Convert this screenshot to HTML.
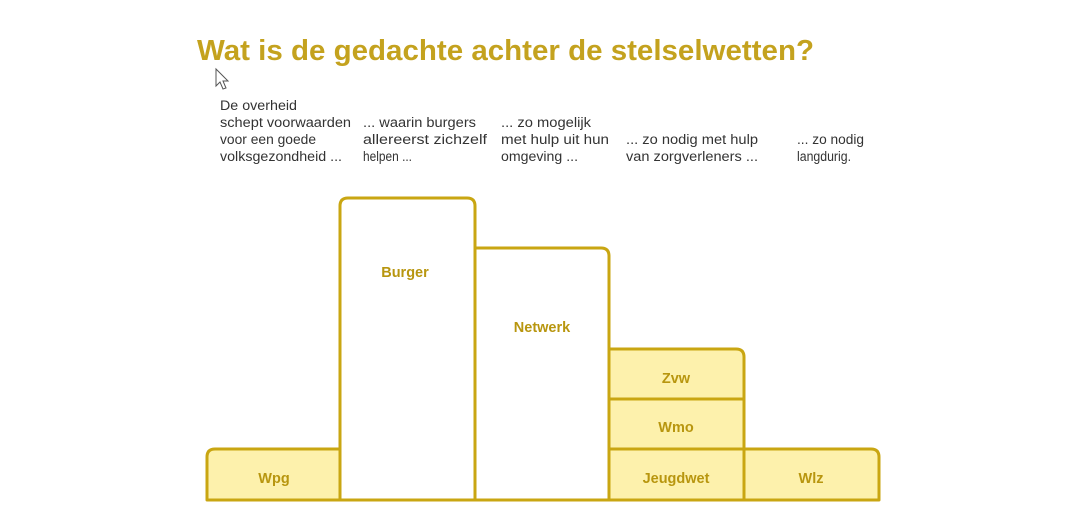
<!DOCTYPE html>
<html><head><meta charset="utf-8"><style>
html,body{margin:0;padding:0;background:#fff;width:1077px;height:525px;overflow:hidden;}
svg{display:block}
.t{font-family:"Liberation Sans",sans-serif;}
</style></head><body>
<svg width="1077" height="525" viewBox="0 0 1077 525">
<text x="197" y="60" class="t" font-size="29" fill="#c4a21e" font-weight="bold" textLength="617" lengthAdjust="spacingAndGlyphs">Wat is de gedachte achter de stelselwetten?</text>
<path d="M216 69 L216 86 L220 82 L223 89 L226 88 L223 81 L228 81 Z" fill="#fff" stroke="#555" stroke-width="1"/>
<g class="t" font-size="13.5" fill="#333" lengthAdjust="spacingAndGlyphs">
<text x="220" y="110" textLength="77" lengthAdjust="spacingAndGlyphs">De overheid</text>
<text x="220" y="127" textLength="131" lengthAdjust="spacingAndGlyphs">schept voorwaarden</text>
<text x="220" y="144" textLength="96" lengthAdjust="spacingAndGlyphs">voor een goede</text>
<text x="220" y="161" textLength="122" lengthAdjust="spacingAndGlyphs">volksgezondheid ...</text>
<text x="363" y="127" textLength="113" lengthAdjust="spacingAndGlyphs">... waarin burgers</text>
<text x="363" y="144" textLength="124" lengthAdjust="spacingAndGlyphs">allereerst zichzelf</text>
<text x="363" y="161" textLength="49" lengthAdjust="spacingAndGlyphs">helpen ...</text>
<text x="501" y="127" textLength="90" lengthAdjust="spacingAndGlyphs">... zo mogelijk</text>
<text x="501" y="144" textLength="108" lengthAdjust="spacingAndGlyphs">met hulp uit hun</text>
<text x="501" y="161" textLength="77" lengthAdjust="spacingAndGlyphs">omgeving ...</text>
<text x="626" y="144" textLength="132" lengthAdjust="spacingAndGlyphs">... zo nodig met hulp</text>
<text x="626" y="161" textLength="132" lengthAdjust="spacingAndGlyphs">van zorgverleners ...</text>
<text x="797" y="144" textLength="67" lengthAdjust="spacingAndGlyphs">... zo nodig</text>
<text x="797" y="161" textLength="54" lengthAdjust="spacingAndGlyphs">langdurig.</text>
</g>
<g stroke="#c9a612" stroke-width="3" stroke-linejoin="round">
<path d="M207 500 V457 Q207 449 215 449 H340 V500 Z" fill="#fdf1ac"/>
<path d="M340 500 V206 Q340 198 348 198 H467 Q475 198 475 206 V500 Z" fill="#fff"/>
<path d="M475 500 V248 H601 Q609 248 609 256 V500 Z" fill="#fff"/>
<path d="M609 399 V349 H736 Q744 349 744 357 V399 Z" fill="#fdf1ac"/>
<rect x="609" y="399" width="135" height="50" fill="#fdf1ac"/>
<rect x="609" y="449" width="135" height="51" fill="#fdf1ac"/>
<path d="M744 500 V449 H871 Q879 449 879 457 V500 Z" fill="#fdf1ac"/>
</g>
<g class="t" font-size="14.5" font-weight="bold" fill="#b8960f" text-anchor="middle">
<text x="274" y="483">Wpg</text>
<text x="405" y="277">Burger</text>
<text x="542" y="332">Netwerk</text>
<text x="676" y="383">Zvw</text>
<text x="676" y="432">Wmo</text>
<text x="676" y="483">Jeugdwet</text>
<text x="811" y="483">Wlz</text>
</g>
</svg>
</body></html>
